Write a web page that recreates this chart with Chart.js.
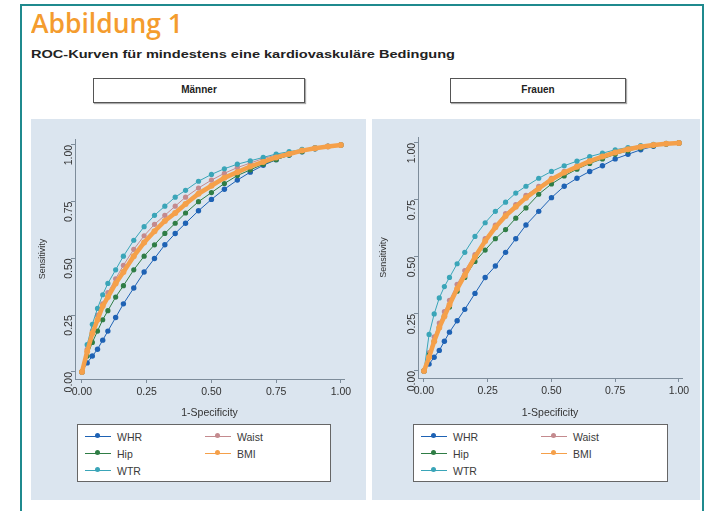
<!DOCTYPE html>
<html><head><meta charset="utf-8">
<script src="https://cdn.jsdelivr.net/npm/chart.js@4.4.0/dist/chart.umd.min.js"></script>
<style>
body{margin:0;width:710px;height:511px;background:#fff;position:relative;overflow:hidden;font-family:"Liberation Sans",Arial,sans-serif}
#frame{position:absolute;left:20px;top:4px;width:684px;height:530px;border:2px solid #1f8a8e;box-sizing:border-box}
#title{position:absolute;left:31px;top:4px;font-family:"Open Sans";font-weight:600;font-size:27px;color:#f49c2e;white-space:nowrap;transform-origin:0 0}
#sub{position:absolute;left:31px;top:48px;font-size:11px;font-weight:bold;color:#222;white-space:nowrap;transform-origin:0 0}
.ptitle{position:absolute;top:78px;height:25px;box-sizing:border-box;border:1.5px solid #555;background:#fff;box-shadow:1px 1px 1px #aaa;text-align:center;font-weight:bold;font-size:10px;line-height:22px;color:#222}
.panel{position:absolute;top:119px;height:381px;background:#dbe5ef}
.legend{position:absolute;top:424px;height:58px;box-sizing:border-box;border:1.5px solid #666;background:#fff;display:grid;grid-template-columns:120px 120px;grid-template-rows:repeat(3,17px);grid-auto-flow:column;padding:3px 0 0 7px}
.item{display:flex;align-items:center;font-size:10.5px;color:#3a3a3a}
.sw{position:relative;width:26px;height:0;border-top:1px solid;margin-right:6px}
.sw i{position:absolute;left:10px;top:-4px;width:5px;height:5px;border-radius:50%}
canvas{position:absolute}
</style></head>
<body>
<div id="frame"></div>
<div id="title">Abbildung 1</div>
<div id="sub">ROC-Kurven für mindestens eine kardiovaskuläre Bedingung</div>
<div class="panel" style="left:31px;width:335px"></div>
<div class="panel" style="left:372px;width:328px"></div>
<div class="ptitle" style="left:93px;width:212px">Männer</div>
<div class="ptitle" style="left:450px;width:176px">Frauen</div>
<div style="position:absolute;left:31px;top:119px;width:335px;height:300px"><canvas id="c1"></canvas></div>
<div style="position:absolute;left:372px;top:119px;width:328px;height:300px"><canvas id="c2"></canvas></div>
<div class="legend" id="lg1" style="left:77px;width:254px"></div>
<div class="legend" id="lg2" style="left:413px;width:255px"></div>
<script>
// ---- data ----
const fpr = [0, .02, .04, .06, .08, .10, .13, .16, .20, .24, .28, .32, .36, .40, .45, .50, .55, .60, .65, .70, .75, .80, .85, .90, .95, 1];
const seriesNames = ['WHR', 'Waist', 'Hip', 'BMI', 'WTR'];
const legendOrder = ['WHR', 'Hip', 'WTR', 'Waist', 'BMI'];
const xTicks = [0, 0.25, 0.5, 0.75, 1];
const yTicks = [0, 0.25, 0.5, 0.75, 1];
// Männer
const menWHR   = [0, .04, .07, .10, .14, .18, .24, .30, .37, .44, .50, .56, .61, .655, .71, .76, .805, .845, .88, .91, .935, .955, .97, .983, .993, 1];
const menWaist = [0, .10, .18, .25, .30, .35, .41, .47, .54, .60, .65, .69, .73, .77, .81, .845, .875, .90, .92, .94, .955, .965, .978, .988, .995, 1];
const menHip   = [0, .07, .13, .18, .23, .27, .33, .38, .45, .51, .56, .61, .655, .70, .75, .79, .83, .865, .89, .915, .935, .955, .97, .983, .993, 1];
const menBMI   = [0, .09, .17, .23, .29, .33, .39, .44, .51, .57, .62, .665, .70, .74, .785, .82, .855, .88, .905, .925, .945, .96, .975, .985, .993, 1];
const menWTR   = [0, .12, .21, .28, .34, .39, .45, .51, .58, .64, .69, .73, .77, .80, .84, .87, .895, .915, .93, .945, .96, .97, .98, .988, .995, 1];
// Frauen
const womenWHR   = [0, .03, .06, .09, .13, .17, .22, .27, .34, .41, .46, .52, .58, .64, .70, .76, .81, .845, .875, .90, .93, .95, .97, .985, .995, 1];
const womenWaist = [0, .08, .15, .21, .26, .31, .38, .44, .51, .58, .64, .69, .73, .77, .81, .845, .875, .90, .925, .945, .96, .975, .985, .992, .997, 1];
const womenHip   = [0, .07, .13, .19, .24, .28, .35, .41, .48, .53, .58, .62, .67, .715, .775, .82, .855, .885, .91, .93, .95, .965, .978, .988, .995, 1];
const womenBMI   = [0, .06, .13, .19, .24, .29, .36, .42, .50, .57, .63, .68, .72, .76, .80, .84, .87, .895, .92, .94, .958, .972, .983, .991, .996, 1];
const womenWTR   = [0, .16, .25, .32, .37, .41, .47, .52, .59, .65, .70, .74, .78, .81, .845, .875, .90, .92, .94, .955, .97, .98, .988, .994, .998, 1];

// ---- styles ----
const styles = {
  WHR:   {color:'#1e62b4', width:1,   radius:2.7, order:4},
  Waist: {color:'#c48a8e', width:1,   radius:2.6, order:3},
  Hip:   {color:'#2f7d45', width:1,   radius:2.6, order:2},
  BMI:   {color:'#f5a04a', width:4.5, radius:3,   order:0},
  WTR:   {color:'#3aa5b8', width:1,   radius:2.6, order:1}
};
const axisColor = '#7d8c9a';
const tickFont = {family:'"Liberation Sans", Arial, sans-serif', size:10.5};

function makeDatasets(series){
  return seriesNames.map(n => ({
    label:n,
    data: fpr.map((x,i)=>({x:x, y:series[n][i]})),
    showLine:true,
    borderColor:styles[n].color,
    backgroundColor:styles[n].color,
    borderWidth:styles[n].width,
    pointRadius:styles[n].radius,
    pointBorderWidth:0,
    order:styles[n].order,
    tension:0
  }));
}
function makeChart(id, series, L){
  return new Chart(document.getElementById(id), {
    type:'scatter',
    data:{datasets:makeDatasets(series)},
    options:{
      responsive:true, maintainAspectRatio:false, animation:false,
      layout:{padding:{left:0, top:L.top, right:L.right, bottom:0}},
      plugins:{legend:{display:false}, tooltip:{enabled:false}},
      scales:{
        x:{type:'linear', min:L.xmin, max:L.xmax,
          afterBuildTicks:s=>{s.ticks = xTicks.map(v=>({value:v}));},
          afterFit:s=>{s.height = L.xh;},
          ticks:{callback:v=>Number(v).toFixed(2), font:tickFont, color:'#333', padding:3, maxRotation:0, autoSkip:false},
          grid:{drawOnChartArea:false, drawTicks:true, tickLength:4, color:axisColor},
          border:{display:true, color:axisColor, width:1},
          title:{display:true, text:'1-Specificity', font:tickFont, color:'#333', padding:{top:0,bottom:0}}
        },
        y:{type:'linear', min:L.ymin, max:L.ymax,
          afterBuildTicks:s=>{s.ticks = yTicks.map(v=>({value:v}));},
          afterFit:s=>{s.width = L.yw;},
          ticks:{callback:v=>Number(v).toFixed(2), font:tickFont, color:'#333', padding:2, minRotation:90, maxRotation:90, autoSkip:false},
          grid:{drawOnChartArea:false, drawTicks:true, tickLength:4, color:axisColor},
          border:{display:true, color:axisColor, width:1},
          title:{display:true, text:'Sensitivity', font:{family:tickFont.family,size:9}, color:'#333', padding:{top:6,bottom:0}}
        }
      }
    }
  });
}
makeChart('c1', {WHR:menWHR, Waist:menWaist, Hip:menHip, BMI:menBMI, WTR:menWTR},
  {top:20, right:22, xh:40, yw:44, xmin:-0.027, xmax:1.012, ymin:-0.031, ymax:1.026});
makeChart('c2', {WHR:womenWHR, Waist:womenWaist, Hip:womenHip, BMI:womenBMI, WTR:womenWTR},
  {top:18, right:18, xh:41, yw:46, xmin:-0.0235, xmax:1.012, ymin:-0.031, ymax:1.026});

function buildLegend(id){
  const el = document.getElementById(id);
  legendOrder.forEach(n=>{
    const it = document.createElement('div'); it.className='item';
    const sw = document.createElement('span'); sw.className='sw'; sw.style.borderColor = styles[n].color;
    const dot = document.createElement('i'); dot.style.background = styles[n].color; sw.appendChild(dot);
    it.appendChild(sw); it.appendChild(document.createTextNode(n)); el.appendChild(it);
  });
}
buildLegend('lg1'); buildLegend('lg2');

function fitWidth(id, w){
  const el = document.getElementById(id);
  const r = el.getBoundingClientRect().width;
  el.style.transform = 'scaleX(' + (w/r) + ')';
}
fitWidth('title', 152);
fitWidth('sub', 424);
</script>
</body></html>
